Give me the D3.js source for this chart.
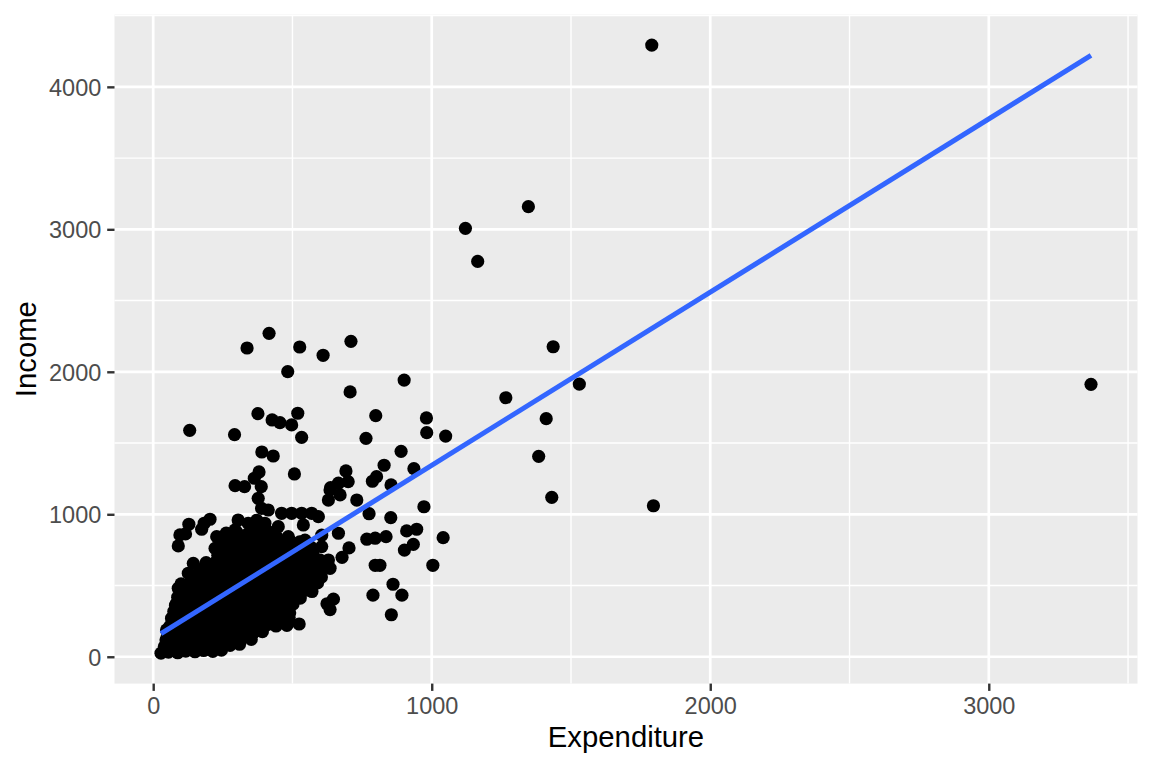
<!DOCTYPE html>
<html>
<head>
<meta charset="utf-8">
<script src="https://cdn.jsdelivr.net/npm/d3@7"></script>
<style>
  body { margin: 0; background: #fff; }
  svg { display: block; font-family: "Liberation Sans", Arial, Helvetica, sans-serif; }
</style>
</head>
<body>
<svg id="chart" width="1152" height="768"></svg>
<script>
// [expenditure, income] pairs
var scatterPoints = [
  [416,2270],[337,2167],[526,2174],[610,2116],[710,2214],[483,2001],[901,1942],[707,1859],
  [376,1706],[427,1662],[455,1643],[497,1627],[519,1709],[799,1692],[981,1676],[131,1589],
  [292,1559],[533,1540],[764,1533],[982,1573],[1050,1549],[390,1437],[431,1409],[890,1442],
  [936,1320],[829,1344],[692,1304],[507,1283],[380,1297],[363,1253],[802,1264],[787,1232],
  [700,1229],[294,1201],[328,1194],[388,1194],[637,1187],[854,1206],
  [972,1053],[853,976],[775,1004],[910,883],[946,895],[1041,836],[767,825],[797,832],
  [836,843],[902,749],[934,789],[703,764],[678,698],[797,642],[814,642],[1004,642],
  [861,509],[789,432],[893,432],[855,295],[624,372],[635,331],[647,404],[524,230],
  [635,1171],[671,1136],[731,1100],[665,867],[635,621],[599,679],[539,925],[593,983],
  [1347,3159],[1121,3007],[1165,2775],[1436,2176],[1530,1914],[1266,1818],[1411,1671],
  [1384,1407],[1431,1119],[1796,1060],[1790,4293],[3367,1912]
];

// edge of the dense cluster
var edgePoints = [
  [377,1112],[389,1042],[413,1030],[461,1007],[497,1007],[533,1007],[569,1007],[665,1218],
  [629,1100],[228,843],[222,761],[305,960],[341,937],[294,890],[318,843],[401,937],
  [449,913],[443,843],[485,843],[473,773],[545,818],[605,853],[605,773],[629,679],[605,656],
  [128,930],[96,855],[116,862],[90,778],[183,937],[204,965],[174,895],[144,656],[126,586],
  [168,597],[90,481],[84,375],[66,270],[48,188],[28,25],[441,216]
];

// inside of the dense cluster
var clusterPoints = [
  [55,32],[88,28],[117,40],[150,35],[181,44],[214,38],[245,46],
  [40,70],[72,78],[104,66],[139,82],[172,74],[206,85],[240,72],[276,80],[310,88],
  [46,118],[78,125],[112,114],[146,128],[180,120],[214,131],[250,117],[286,126],[320,134],[352,122],
  [52,165],[86,176],[120,162],[155,172],[190,168],[224,178],[258,163],[292,174],[326,181],[360,169],[392,176],
  [60,214],[95,222],[130,210],[165,226],[200,215],[235,208],[270,224],[305,218],[340,230],[375,212],[410,225],[480,220],
  [68,262],[102,270],[138,258],[172,274],[208,266],[242,256],[278,272],[312,264],[348,276],[382,260],[418,270],[452,262],[488,275],
  [74,318],[110,310],[145,322],[180,308],[215,320],[250,314],[285,326],[320,306],[355,318],[390,328],[425,312],[460,320],[490,308],
  [80,362],[116,370],[150,358],[186,368],[222,360],[256,374],[292,362],[326,370],[362,356],[398,368],[432,376],[468,360],[502,370],
  [88,418],[122,420],[158,410],[192,422],[228,414],[262,408],[298,424],[334,416],[368,410],[404,426],[438,418],[472,406],[506,420],[528,412],
  [128,468],[162,458],[198,470],[232,462],[268,456],[302,472],[338,464],[372,458],[408,470],[442,462],[478,474],[512,460],[546,468],[570,458],
  [100,512],[134,520],[170,508],[206,518],[240,512],[276,524],[310,506],[346,518],[380,512],[416,526],[450,510],[486,520],[520,514],[556,506],[590,518],
  [152,560],[188,570],[222,562],[258,556],[292,568],[328,560],[362,574],[398,558],[432,566],[468,560],[502,572],[538,558],[572,566],[604,560],
  [174,612],[210,620],[244,608],[280,618],[314,612],[350,622],[384,606],[420,616],[454,610],[490,624],[524,612],[560,618],[594,608],
  [190,660],[226,668],[260,672],[296,658],[330,666],[366,674],[400,660],[436,668],[470,656],[506,664],[540,672],[574,662],
  [232,712],[262,720],[296,708],[332,716],[366,722],[400,710],[436,718],[470,712],[504,724],[540,708],[574,716],
  [256,762],[290,770],[326,758],[360,766],[394,774],[430,760],[464,768],[498,756],[534,764],[566,770],
  [248,812],[282,820],[318,808],[352,818],[388,812],[420,822],[456,810],[490,816],[526,806],
  [262,868],[300,874],[340,862],[380,870],[412,880],[360,912],[372,958]
];

// linear fit
var fitIntercept = 128;
var fitSlope = 1.2155;

var xTicks = [0, 1000, 2000, 3000];
var yTicks = [0, 1000, 2000, 3000, 4000];
var xMinorTicks = [500, 1500, 2500, 3500];
var yMinorTicks = [500, 1500, 2500, 3500, 4500];

var points = scatterPoints.concat(edgePoints, clusterPoints);

// panel box
var panel = {left: 114.5, right: 1137.5, top: 14.7, bottom: 683.6};

var svg = d3.select("#chart");

var xExt = d3.extent(points, function(d) { return d[0]; });
var yExt = d3.extent(points, function(d) { return d[1]; });
var xPad = (xExt[1] - xExt[0]) * 0.05,
    yPad = (yExt[1] - yExt[0]) * 0.05;

var x = d3.scaleLinear()
    .domain([xExt[0] - xPad, xExt[1] + xPad])
    .range([panel.left, panel.right]);

var y = d3.scaleLinear()
    .domain([yExt[0] - yPad, yExt[1] + yPad])
    .range([panel.bottom, panel.top]);

svg.append("rect")
    .attr("x", panel.left)
    .attr("y", panel.top)
    .attr("width", panel.right - panel.left)
    .attr("height", panel.bottom - panel.top)
    .attr("fill", "#EBEBEB");

var grid = svg.append("g").attr("stroke", "#fff");

function inside(scale) {
  var dom = scale.domain();
  return function(v) { return v >= dom[0] && v <= dom[1]; };
}

grid.selectAll(".xminor")
    .data(xMinorTicks.filter(inside(x)))
  .enter().append("line")
    .attr("x1", x).attr("x2", x)
    .attr("y1", panel.top).attr("y2", panel.bottom)
    .attr("stroke-width", 1.4);

grid.selectAll(".yminor")
    .data(yMinorTicks.filter(inside(y)))
  .enter().append("line")
    .attr("y1", y).attr("y2", y)
    .attr("x1", panel.left).attr("x2", panel.right)
    .attr("stroke-width", 1.4);

grid.selectAll(".xmajor")
    .data(xTicks)
  .enter().append("line")
    .attr("x1", x).attr("x2", x)
    .attr("y1", panel.top).attr("y2", panel.bottom)
    .attr("stroke-width", 2.7);

grid.selectAll(".ymajor")
    .data(yTicks)
  .enter().append("line")
    .attr("y1", y).attr("y2", y)
    .attr("x1", panel.left).attr("x2", panel.right)
    .attr("stroke-width", 2.7);

svg.append("g")
  .selectAll("circle")
    .data(points)
  .enter().append("circle")
    .attr("cx", function(d) { return x(d[0]); })
    .attr("cy", function(d) { return y(d[1]); })
    .attr("r", 6.6)
    .attr("fill", "#000");

var fitLine = d3.line()
    .x(function(d) { return x(d); })
    .y(function(d) { return y(fitIntercept + fitSlope * d); });

svg.append("path")
    .datum(xExt)
    .attr("d", fitLine)
    .attr("fill", "none")
    .attr("stroke", "#3366FF")
    .attr("stroke-width", 5);

// axes
var xAxis = svg.append("g")
    .attr("transform", "translate(0," + panel.bottom + ")")
    .call(d3.axisBottom(x).tickValues(xTicks).tickSize(7.3).tickPadding(5.9).tickFormat(d3.format("d")));

var yAxis = svg.append("g")
    .attr("transform", "translate(" + panel.left + ",0)")
    .call(d3.axisLeft(y).tickValues(yTicks).tickSize(7.3).tickPadding(5.9).tickFormat(d3.format("d")));

[xAxis, yAxis].forEach(function(a) {
  a.select(".domain").remove();
  a.selectAll(".tick line").attr("stroke", "#333333").attr("stroke-width", 2.4);
  a.selectAll(".tick text")
      .attr("fill", "#4D4D4D")
      .style("font-size", "23.5px")
      .style("font-family", "Liberation Sans, Arial, sans-serif");
});
xAxis.selectAll(".tick text").attr("dy", "0.72em");
yAxis.selectAll(".tick text").attr("dy", "0.36em");

svg.append("text")
    .attr("x", (panel.left + panel.right) / 2)
    .attr("y", 747)
    .attr("text-anchor", "middle")
    .style("font-size", "29.3px")
    .text("Expenditure");

svg.append("text")
    .attr("transform", "translate(36," + (panel.top + panel.bottom) / 2 + ") rotate(-90)")
    .attr("text-anchor", "middle")
    .style("font-size", "29.3px")
    .text("Income");
</script>
</body>
</html>
